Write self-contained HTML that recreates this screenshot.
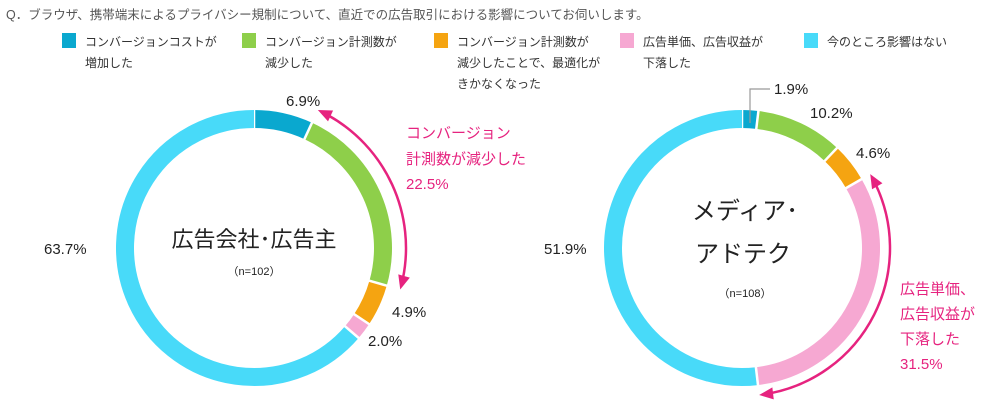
<!DOCTYPE html>
<html><head><meta charset="utf-8">
<style>
body{margin:0;background:#fff;width:1000px;height:400px;overflow:hidden;font-family:"Liberation Sans","Noto Sans CJK JP",sans-serif;}
#t{position:absolute;left:6px;top:4px;font-size:12.5px;color:#555;}
.lg{position:absolute;top:32px;font-size:12px;color:#333;line-height:21px;}
.sw{position:absolute;left:-23px;top:1px;width:14px;height:15px;}
svg{position:absolute;left:0;top:0;}
</style></head><body>
<div id="t">Q．ブラウザ、携帯端末によるプライバシー規制について、直近での広告取引における影響についてお伺いします。</div>
<div class="lg" style="left:85px"><span class="sw" style="background:#0aa8cf"></span>コンバージョンコストが<br>増加した</div>
<div class="lg" style="left:265px"><span class="sw" style="background:#8ecf4a"></span>コンバージョン計測数が<br>減少した</div>
<div class="lg" style="left:457px"><span class="sw" style="background:#f5a411"></span>コンバージョン計測数が<br>減少したことで、最適化が<br>きかなくなった</div>
<div class="lg" style="left:643px"><span class="sw" style="background:#f6a8d2"></span>広告単価、広告収益が<br>下落した</div>
<div class="lg" style="left:827px"><span class="sw" style="background:#48daf9"></span>今のところ影響はない</div>
<svg id="c" width="1000" height="400"></svg>
<script>
const categories=["cost","measure","optimize","price","none"];
const colors=["#0aa8cf","#8ecf4a","#f5a411","#f6a8d2","#48daf9"];
const advValues=[6.9,22.5,4.9,2.0,63.7];
const mediaValues=[1.9,10.2,4.6,31.5,51.9];
const ns="http://www.w3.org/2000/svg",svg=document.getElementById('c');
function mk(t,a,p){const e=document.createElementNS(ns,t);for(const k in a)e.setAttribute(k,a[k]);(p||svg).appendChild(e);return e;}
function pt(cx,cy,r,f){const a=f*2*Math.PI-Math.PI/2;return [cx+r*Math.cos(a),cy+r*Math.sin(a)];}
function arcPath(cx,cy,r,f0,f1){const p0=pt(cx,cy,r,f0),p1=pt(cx,cy,r,f1);return `M${p0[0]},${p0[1]} A${r},${r} 0 ${f1-f0>0.5?1:0} 1 ${p1[0]},${p1[1]}`;}
function donut(cx,cy,vals,name){
  const tot=vals.reduce((a,b)=>a+b,0);let acc=0;const r=129;
  vals.forEach((v,i)=>{const f0=acc/tot,f1=(acc+v)/tot;acc+=v;
    const p=mk('path',{d:arcPath(cx,cy,r,f0,f1),fill:'none',stroke:colors[i],'stroke-width':18});
    
    
    mk('line',{x1:pt(cx,cy,r-11,f0)[0],y1:pt(cx,cy,r-11,f0)[1],x2:pt(cx,cy,r+11,f0)[0],y2:pt(cx,cy,r+11,f0)[1],stroke:'#fff','stroke-width':2.5});
  });
  return tot;
}
function label(x,y,txt,nm,col,size,anchor){const t=mk('text',{x:x,y:y,'font-size':size||15,fill:col||'#222','text-anchor':anchor||'start'});t.textContent=txt;
  
  return t;}
function arrow(cx,cy,r,f0,f1,nm){
  const g=mk('g',{});
  
  
  mk('path',{d:arcPath(cx,cy,r,f0+0.012,f1-0.012),fill:'none',stroke:'#e6237f','stroke-width':2.5},g);
  [[f0,-1],[f1,1]].forEach(([f,d])=>{const tip=pt(cx,cy,r,f),a=f*2*Math.PI-Math.PI/2;
    const tx=-Math.sin(a)*d,ty=Math.cos(a)*d;const bx=tip[0]-tx*14,by=tip[1]-ty*14;const nx=Math.cos(a),ny=Math.sin(a);
    mk('polygon',{points:`${tip[0]},${tip[1]} ${bx+nx*6},${by+ny*6} ${bx-nx*6},${by-ny*6}`,fill:'#e6237f'},g);});
}
const L=[254,248];const tl=donut(L[0],L[1],advValues,'advertiser');
const lf=[advValues[0]/tl,(advValues[0]+advValues[1])/tl];
arrow(L[0],L[1],152,lf[0],lf[1],'advertiser-measure-arrow');
label(286,106,advValues[0].toFixed(1)+'%','label-adv-cost');
label(392,317,advValues[2].toFixed(1)+'%','label-adv-optimize');
label(368,346,advValues[3].toFixed(1)+'%','label-adv-price');
label(44,254,advValues[4].toFixed(1)+'%','label-adv-none');
label(406,138,'コンバージョン','callout-adv-1','#e6237f',15);
label(406,164,'計測数が減少した','callout-adv-2','#e6237f',15);
label(406,189,advValues[1].toFixed(1)+'%','callout-adv-value','#e6237f',15);
label(254,247,'広告会社･広告主','center-title-adv','#222',22,'middle');
label(254,275,'（n=102）','center-n-adv','#222',11,'middle');
const R=[742,248];const tr=donut(R[0],R[1],mediaValues,'media');
const rf0=(mediaValues[0]+mediaValues[1]+mediaValues[2])/tr,rf1=rf0+mediaValues[3]/tr;
arrow(R[0],R[1],148,rf0,rf1,'media-price-arrow');
mk('polyline',{points:'750,123 750,89 770,89',fill:'none',stroke:'#999','stroke-width':1.2});
label(774,94,mediaValues[0].toFixed(1)+'%','label-media-cost');
label(810,118,mediaValues[1].toFixed(1)+'%','label-media-measure');
label(856,158,mediaValues[2].toFixed(1)+'%','label-media-optimize');
label(544,254,mediaValues[4].toFixed(1)+'%','label-media-none');
label(900,294,'広告単価、','callout-media-1','#e6237f',15);
label(900,319,'広告収益が','callout-media-2','#e6237f',15);
label(900,344,'下落した','callout-media-3','#e6237f',15);
label(900,369,mediaValues[3].toFixed(1)+'%','callout-media-value','#e6237f',15);
label(745,219,'メディア･','center-title-media-1','#222',24,'middle');
label(743,262,'アドテク','center-title-media-2','#222',24,'middle');
label(745,297,'（n=108）','center-n-media','#222',11,'middle');
</script>
</body></html>
